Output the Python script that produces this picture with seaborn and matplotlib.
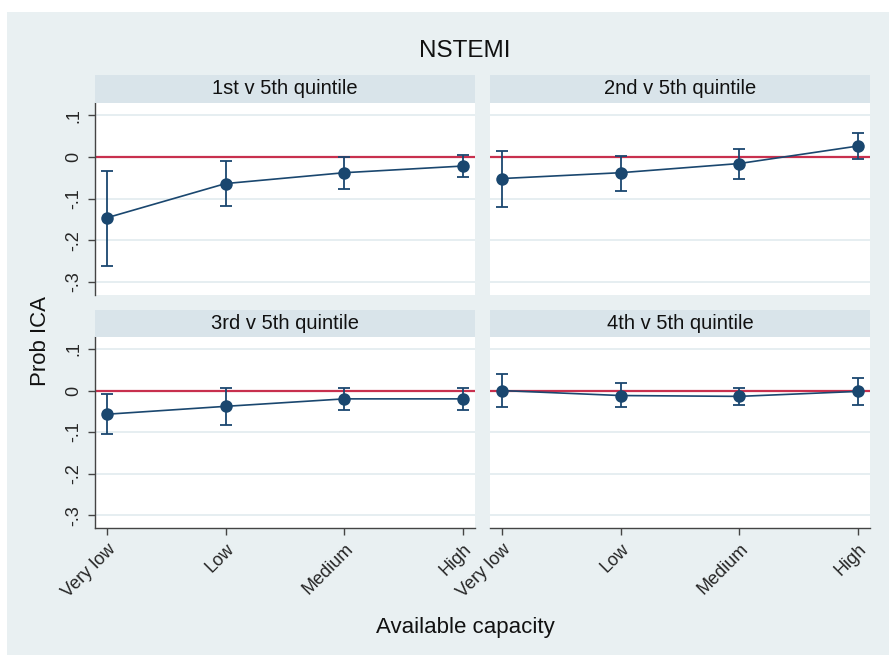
import numpy as np
import pandas as pd
import matplotlib
matplotlib.use("Agg")
import matplotlib.pyplot as plt
from matplotlib.patches import Rectangle
import seaborn as sns

# Categories and panel labels
capacity = ["Very low", "Low", "Medium", "High"]
panels = ["1st v 5th quintile", "2nd v 5th quintile",
          "3rd v 5th quintile", "4th v 5th quintile"]

# Estimated difference in probability of ICA with 95% CI
est_q1 = [-0.146, -0.064, -0.038, -0.022]
lo_q1 = [-0.261, -0.118, -0.077, -0.048]
hi_q1 = [-0.034, -0.010, 0.000, 0.005]

est_q2 = [-0.052, -0.038, -0.016, 0.026]
lo_q2 = [-0.120, -0.081, -0.052, -0.005]
hi_q2 = [0.015, 0.003, 0.018, 0.057]

est_q3 = [-0.057, -0.038, -0.020, -0.020]
lo_q3 = [-0.105, -0.084, -0.047, -0.047]
hi_q3 = [-0.008, 0.007, 0.007, 0.006]

est_q4 = [0.000, -0.012, -0.014, -0.002]
lo_q4 = [-0.040, -0.039, -0.034, -0.034]
hi_q4 = [0.039, 0.018, 0.007, 0.030]

yticks = [-0.3, -0.2, -0.1, 0.0, 0.1]
ytick_labels = ["-.3", "-.2", "-.1", "0", ".1"]

series = [(est_q1, lo_q1, hi_q1), (est_q2, lo_q2, hi_q2),
          (est_q3, lo_q3, hi_q3), (est_q4, lo_q4, hi_q4)]
rows = []
for name, (e, l, h) in zip(panels, series):
    for i, cat in enumerate(capacity):
        rows.append({"panel": name, "capacity": cat, "pos": i,
                     "est": e[i], "lo": l[i], "hi": h[i]})
df = pd.DataFrame(rows)

sns.set_theme(style="white")
plt.rcParams["font.family"] = ["Liberation Sans", "DejaVu Sans"]

NAVY = "#1a476f"
RED = "#c8304e"
GRAPH_BG = "#e9f0f2"
STRIP_BG = "#d9e4ea"
GRID = "#e6eef1"
AXIS = "#444444"

W, H = 889, 655
fig = plt.figure(figsize=(W / 100, H / 100), dpi=100)
fig.patch.set_facecolor("white")
fig.patches.append(Rectangle((7 / W, 0), 1 - 7 / W, 1 - 12 / H,
                             transform=fig.transFigure,
                             facecolor=GRAPH_BG, edgecolor="none",
                             zorder=-10))

# panel boxes in pixels: (left, top, width, height)
boxes = [(95, 103, 380, 192), (490, 103, 380, 192),
         (95, 337, 380, 191), (490, 337, 380, 191)]
strip_h = [28, 28, 27, 27]

for k, (name, (px, py, pw, ph)) in enumerate(zip(panels, boxes)):
    ax = fig.add_axes([px / W, 1 - (py + ph) / H, pw / W, ph / H])
    ax.set_zorder(2)
    ax.set_facecolor("white")
    d = df[df["panel"] == name]

    for y in yticks:
        ax.axhline(y, color=GRID, lw=1.4, zorder=1)
    ax.axhline(0, color=RED, lw=1.6, zorder=2)

    ax.errorbar(d["pos"], d["est"],
                yerr=[d["est"] - d["lo"], d["hi"] - d["est"]],
                fmt="none", ecolor=NAVY, elinewidth=1.3,
                capsize=4.3, capthick=1.3, zorder=3)
    sns.lineplot(data=d, x="pos", y="est", ax=ax, color=NAVY,
                 marker="o", markersize=9, markeredgewidth=0,
                 linewidth=1.2, zorder=4, legend=False)

    ax.set_xlim(-0.1, 3.1)
    ax.set_ylim(-0.331, 0.129)
    ax.set_xlabel("")
    ax.set_ylabel("")

    left = k % 2 == 0
    bottom = k >= 2
    for s in ax.spines.values():
        s.set_visible(False)

    ax.set_yticks(yticks)
    if left:
        ax.spines["left"].set_visible(True)
        ax.spines["left"].set_color(AXIS)
        ax.spines["left"].set_linewidth(1.0)
        ax.set_yticklabels(ytick_labels, rotation=90, va="center",
                           fontsize=13)
        ax.tick_params(axis="y", left=True, length=5, width=1.0,
                       color=AXIS, pad=4)
    else:
        ax.set_yticklabels([])
        ax.tick_params(axis="y", left=False)

    ax.set_xticks(range(len(capacity)))
    if bottom:
        ax.spines["bottom"].set_visible(True)
        ax.spines["bottom"].set_color(AXIS)
        ax.spines["bottom"].set_linewidth(1.0)
        ax.set_xticklabels(capacity, rotation=45, ha="right", va="top",
                           rotation_mode="anchor", fontsize=13)
        ax.tick_params(axis="x", bottom=True, length=5, width=1.0,
                       color=AXIS, pad=4)
    else:
        ax.set_xticklabels([])
        ax.tick_params(axis="x", bottom=False)

    sh = strip_h[k] / ph
    ax.add_patch(Rectangle((0, 1), 1, sh, transform=ax.transAxes,
                           facecolor=STRIP_BG, edgecolor="none",
                           clip_on=False, zorder=5))
    ax.text(0.5, 1 + sh / 2, name, transform=ax.transAxes,
            ha="center", va="center", fontsize=14.5, color="#111111",
            zorder=6)

fig.text(465 / W, 1 - 51 / H, "NSTEMI", ha="center", va="center",
         fontsize=17.5, color="#111111")
fig.text(465 / W, 1 - 628 / H, "Available capacity", ha="center",
         va="center", fontsize=16, color="#111111")
fig.text(40 / W, 1 - 341 / H, "Prob ICA", ha="center", va="center",
         rotation=90, fontsize=16, color="#111111")

fig.savefig("out.png", dpi=100, facecolor=fig.get_facecolor())
